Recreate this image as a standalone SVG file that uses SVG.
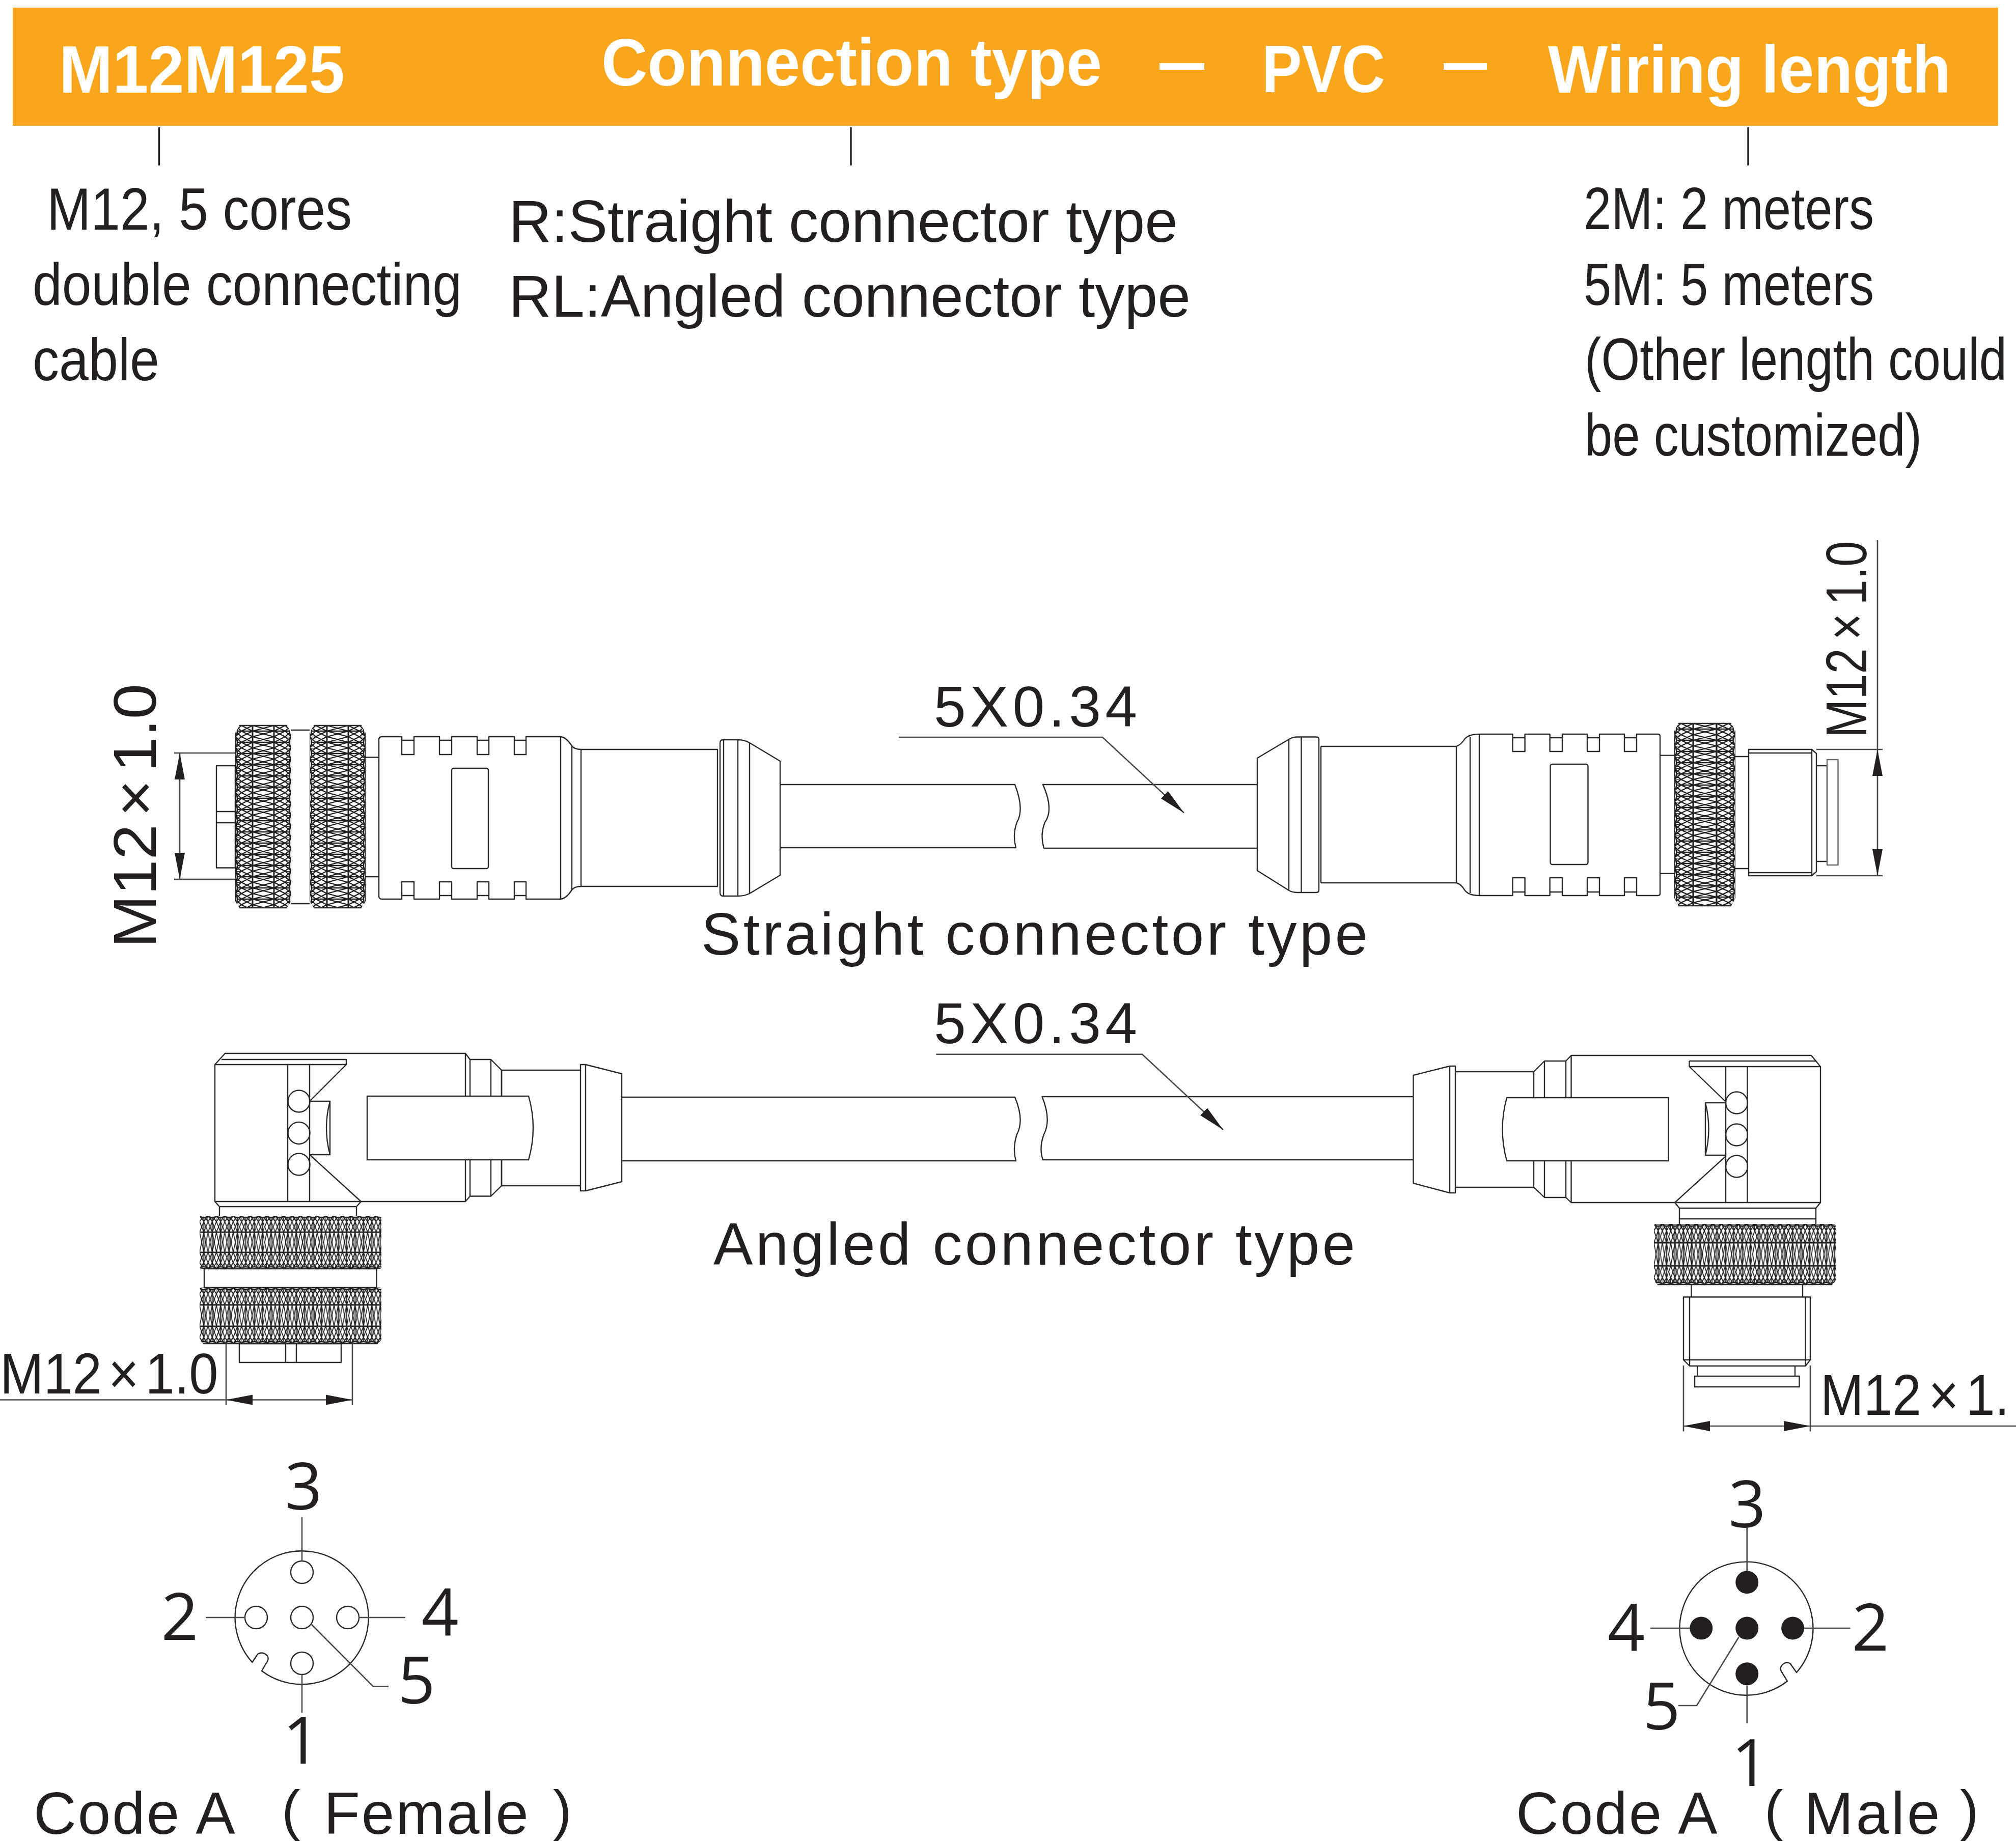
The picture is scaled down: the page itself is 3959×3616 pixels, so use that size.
<svg xmlns="http://www.w3.org/2000/svg" xmlns:xlink="http://www.w3.org/1999/xlink" width="3959" height="3616" viewBox="0 0 3959 3616">
<style>
.l{fill:none;stroke:#2b2829;stroke-width:2.4;stroke-linejoin:round;stroke-linecap:butt}
.w{fill:#fff;stroke:#2b2829;stroke-width:2.4}
.g{fill:none;stroke:#6a6868;stroke-width:2.4}
.c{fill:none;stroke:#4a4748;stroke-width:2.6}
.d{fill:none;stroke:#231f20;stroke-width:3.4}
.a{marker-start:url(#arr);marker-end:url(#arr)}
text{font-family:"Liberation Sans",Arial,sans-serif;fill:#231f20}
.h{font-weight:700;fill:#fff;font-size:132px}
.t{font-size:116px}
.s{font-size:113px}
.n{font-family:"Open Sans","Noto Sans",sans-serif;font-size:128px;text-anchor:middle}
.p{fill:#231f20;stroke:none}
</style>
<defs>
<marker id="arr" markerUnits="userSpaceOnUse" markerWidth="54" markerHeight="24" refX="52" refY="12" orient="auto-start-reverse"><path d="M0 2L52 12L0 22Z" fill="#231f20"/></marker>
<pattern id="k" patternUnits="userSpaceOnUse" width="110" height="22">
<rect width="110" height="22" fill="#fff"/>
<path fill="none" stroke="#231f20" stroke-width="2.3" d="M0 0L12 11L0 22M12 0L0 11L12 22M12 0L34 11L12 22M34 0L12 11L34 22M34 0L76 11L34 22M76 0L34 11L76 22M76 0L98 11L76 22M98 0L76 11L98 22M98 0L110 11L98 22M110 0L98 11L110 22M0 0H12M98 0H110M0 11H110"/>
<path fill="none" stroke="#231f20" stroke-width="3" d="M34 0V22M76 0V22"/>
<path fill="#fff" stroke="#231f20" stroke-width="2.3" d="M0 0Q8 11 0 22ZM110 0Q102 11 110 22Z"/>
</pattern>
<pattern id="k1" href="#k" xlink:href="#k" patternTransform="translate(462,1425)"/>
<pattern id="k2" href="#k" xlink:href="#k" patternTransform="translate(608,1425)"/>
<pattern id="k3" href="#k" xlink:href="#k" patternTransform="translate(3288,1421) scale(1.09,1)"/>
<pattern id="k4" href="#k" xlink:href="#k" patternTransform="translate(392,2388) rotate(90) scale(.945,.75)"/>
<pattern id="k5" href="#k" xlink:href="#k" patternTransform="translate(392,2529) rotate(90) scale(1,.75)"/>
<pattern id="k6" href="#k" xlink:href="#k" patternTransform="translate(3248,2404) rotate(90) scale(1.082,.75)"/>
</defs>
<rect width="3959" height="3616" fill="#fff"/>

<g id="header">
<rect x="25" y="15" width="3899" height="232" fill="#f9a61c"/>
<text class="h" x="116" y="182" textLength="561" lengthAdjust="spacingAndGlyphs">M12M125</text>
<text class="h" x="1181" y="168" textLength="983" lengthAdjust="spacingAndGlyphs">Connection type</text>
<text class="h" x="2277" y="166" textLength="88" lengthAdjust="spacingAndGlyphs">—</text>
<text class="h" x="2478" y="181" textLength="242" lengthAdjust="spacingAndGlyphs">PVC</text>
<text class="h" x="2835" y="166" textLength="85" lengthAdjust="spacingAndGlyphs">—</text>
<text class="h" x="3040" y="182" textLength="791" lengthAdjust="spacingAndGlyphs">Wiring length</text>
</g>

<g id="desc-model">
<text class="t" x="92" y="451" textLength="599" lengthAdjust="spacingAndGlyphs">M12, 5 cores</text>
<text class="t" x="64" y="599" textLength="843" lengthAdjust="spacingAndGlyphs">double connecting</text>
<text class="t" x="64" y="747" textLength="249" lengthAdjust="spacingAndGlyphs">cable</text>
</g>
<g id="desc-type">
<text class="t" x="999" y="475" textLength="1314" lengthAdjust="spacingAndGlyphs">R:Straight connector type</text>
<text class="t" x="999" y="622" textLength="1339" lengthAdjust="spacingAndGlyphs">RL:Angled connector type</text>
</g>
<g id="desc-length">
<text class="t" x="3110" y="450" textLength="570" lengthAdjust="spacingAndGlyphs">2M: 2 meters</text>
<text class="t" x="3110" y="599" textLength="570" lengthAdjust="spacingAndGlyphs">5M: 5 meters</text>
<text class="t" x="3112" y="746" textLength="829" lengthAdjust="spacingAndGlyphs">(Other length could</text>
<text class="t" x="3112" y="895" textLength="662" lengthAdjust="spacingAndGlyphs">be customized)</text>
</g>

<g id="straight-female">
<rect class="l" x="425" y="1504" width="37" height="200.5"/>
<path class="l" d="M425 1594H462M425 1616H462M571 1434H608M571 1775H608M717 1487.5H744M717 1722H744"/>
<path fill="url(#k1)" d="M462 1440L470 1425H564L571.500 1440V1770L564 1783H470L462 1770Z"/>
<path fill="url(#k2)" d="M608 1440L616 1425H710L718 1440V1770L710 1783H616L608 1770Z"/>
<path class="l" d="M470 1425H564M470 1783H564M616 1425H710M616 1783H710"/>
<path class="l" d="M1101 1447H1033V1482H1010V1447H960V1482H937V1447H887V1482H863V1447H813V1482H789V1447H750Q744 1447 744 1453V1760Q744 1766 750 1766H789V1732H813V1766H863V1732H887V1766H937V1732H960V1766H1010V1732H1033V1766H1101"/>
<path class="l" d="M789 1454H813M863 1454H887M937 1454H960M1010 1454H1033M789 1759H813M863 1759H887M937 1759H960M1010 1759H1033"/>
<path class="l" d="M1101 1447Q1112 1448 1123 1465Q1128 1472 1141 1472H1409V1741H1141Q1128 1741 1123 1748Q1112 1765 1101 1766V1447M1123 1465V1748M1141 1472V1741"/>
<rect class="l" x="887" y="1509" width="72" height="197" rx="4"/>
<path class="l" d="M1414 1460Q1414 1453 1420 1453H1449Q1462 1453 1472 1459L1532 1495V1719L1472 1755Q1462 1760 1449 1760H1420Q1414 1760 1414 1753ZM1421 1453V1760M1449 1453V1760M1472 1459V1755"/>
</g>

<g id="straight-cable">
<path class="l" d="M1532 1541H1993Q2012 1590 1997 1615Q1988 1640 1995 1665H1532"/>
<path class="l" d="M2469 1541H2048Q2070 1590 2052 1615Q2042 1640 2050 1666H2469"/>
<text class="s" x="1834" y="1427" textLength="399">5X0.34</text>
<text class="t" x="1377" y="1875" textLength="1309">Straight connector type</text>
</g>

<g id="straight-male">
<path class="l" d="M2469 1489L2533 1451Q2540 1447.500 2547 1447.500H2585Q2590 1447.500 2590 1452V1748Q2590 1753 2585 1753H2547Q2540 1753 2533 1750L2469 1710ZM2531 1452V1749M2555.500 1447.500V1753M2594 1466V1734"/>
<path class="l" d="M2594 1466H2860Q2870 1462 2876 1452Q2884 1442 2905 1442M2594 1734H2860Q2870 1737 2876 1748Q2884 1759 2905 1759M2860 1466V1734M2887 1447V1754M2905 1442V1759"/>
<path class="l" d="M2905 1442H2970.500V1476H2994.600V1442H3043.600V1476H3068V1442H3117V1476H3141V1442H3190V1476H3214V1442H3256Q3260 1442 3260 1446V1755Q3260 1759 3256 1759H3214V1724H3190V1759H3141V1724H3117V1759H3068V1724H3043.600V1759H2994.600V1724H2970.500V1759H2905"/>
<path class="l" d="M2970.500 1449H2994.600M3043.600 1449H3068M3117 1449H3141M3190 1449H3214M2970.500 1752H2994.600M3043.600 1752H3068M3117 1752H3141M3190 1752H3214"/>
<rect class="l" x="3044.500" y="1501" width="74" height="197" rx="4"/>
<path class="l" d="M3260 1483.600H3288M3260 1715.600H3288M3408 1486H3434M3408 1706H3434"/>
<path fill="url(#k3)" d="M3288 1436L3296 1421H3400L3408 1436V1764L3400 1779H3296L3288 1764Z"/>
<path class="l" d="M3296 1421H3400M3296 1779H3400"/>
<path class="l" d="M3434 1472H3558L3567 1480V1712L3558 1720H3434ZM3558 1472V1720M3434 1479H3558M3434 1714H3558"/>
<path class="l" d="M3567 1504H3588V1692H3567"/>
<rect class="g" x="3588" y="1492" width="21.500" height="207"/>
</g>

<g id="angled-female">
<path class="l" d="M422 2091L442 2069H914L923 2081H964L985 2102V2329L964 2349.500H923L914 2360H422ZM435 2081H680V2091M422 2091H680L608 2163M565 2091V2360M608 2091V2360"/>
<circle class="l" cx="587" cy="2163" r="21.500"/><circle class="l" cx="587" cy="2225.500" r="21.500"/><circle class="l" cx="587" cy="2287" r="21.500"/>
<path class="l" d="M608 2163H648V2268H608M648 2163Q634 2215 648 2268M608 2268L709 2360M914 2069V2360M923 2081V2350M964 2081V2350M985 2102V2329"/>
<path class="l" d="M985 2102H1140M985 2329H1140M1140 2091H1150L1221 2109V2321L1150 2339H1140ZM1150 2091V2339"/>
<path class="w" d="M721 2153H1038Q1056 2215 1038 2278H721Z"/>
<path class="l" d="M422 2360L431 2370H700L709 2360M431 2370V2388M700 2370V2388M401 2492V2529M739.500 2492V2529"/>
<path fill="url(#k4)" d="M396 2388H745Q749 2388 749 2392V2488Q749 2492 745 2492H396Q392 2492 392 2488V2392Q392 2388 396 2388Z"/>
<path fill="url(#k5)" d="M396 2529H745Q749 2529 749 2533V2632L742 2639H399L392 2632V2533Q392 2529 396 2529Z"/>
<path class="l" d="M401 2492H739.500M401 2529H739.500M399 2639H742"/>
<rect class="l" x="470" y="2639" width="200" height="37"/>
<path class="l" d="M561 2639V2676M582 2639V2676"/>
</g>

<g id="angled-cable">
<path class="l" d="M1221 2155H1993Q2012 2200 1997 2228Q1988 2255 1995 2280H1221"/>
<path class="l" d="M2775.500 2154H2046.500Q2065 2200 2050 2228Q2040 2255 2048 2278H2775.500"/>
<text class="s" x="1834" y="2049" textLength="399">5X0.34</text>
<text class="t" x="1401" y="2483.500" textLength="1260">Angled connector type</text>
</g>

<g id="angled-male">
<path class="l" d="M2775.500 2112L2847 2094H2858V2343H2847L2775.500 2324ZM2847 2094V2343"/>
<path class="l" d="M2858 2105H3012L3033 2084H3075L3085.500 2073H3557L3575 2095V2362H3085.500L3075 2352H3033L3012 2332H2858M3012 2105V2332M3033 2084V2352M3075 2084V2352M3085.500 2073V2362"/>
<path class="l" d="M3317.500 2084H3567M3317.500 2084V2095M3317.500 2095H3575M3317.500 2095L3389 2164M3389 2095V2362M3431.500 2095V2362"/>
<circle class="l" cx="3410.500" cy="2166" r="21.500"/><circle class="l" cx="3410.500" cy="2229" r="21.500"/><circle class="l" cx="3410.500" cy="2291" r="21.500"/>
<path class="l" d="M3389 2166H3349V2269H3389M3349 2166Q3362 2217 3349 2269M3389 2271L3289 2362"/>
<path class="w" d="M2959 2156H3276.500V2280H2959Q2942 2218 2959 2156Z"/>
<path class="l" d="M3289 2362L3298 2373H3566L3575 2362M3298 2373V2404M3566 2373V2404M3298 2394H3566"/>
<path fill="url(#k6)" d="M3252 2404H3601Q3605 2404 3605 2408V2516L3598 2523H3255L3248 2516V2408Q3248 2404 3252 2404Z"/>
<path class="l" d="M3255 2523H3598M3321.500 2523V2547.500M3540 2523V2547.500"/>
<path class="l" d="M3306 2547.500H3555V2671L3545.600 2683H3318L3306 2671ZM3318 2547.500V2683M3545.600 2547.500V2683M3306 2671H3555"/>
<path class="l" d="M3333.500 2683V2703M3525 2683V2703"/>
<rect class="l" x="3328" y="2703" width="205.500" height="21"/>
</g>

<g id="pins-female">
<path class="l" d="M514 3282A131 131 0 1 0 495.400 3265L506 3249Q515 3243 524 3251Q530 3258 522 3268Z"/>
<circle class="l" cx="593" cy="3088" r="22"/><circle class="l" cx="503" cy="3177" r="22"/><circle class="l" cx="593" cy="3177" r="22"/><circle class="l" cx="683" cy="3177" r="22"/><circle class="l" cx="593" cy="3267" r="22"/>
<text class="n" x="596" y="2965">3</text><text class="n" x="353" y="3221">2</text><text class="n" x="864" y="3212">4</text><text class="n" x="818" y="3346">5</text><text class="n" x="592" y="3464">1</text>
<text class="t" y="3601.500"><tspan x="66" letter-spacing="3">Code A</tspan><tspan x="553" dy="-9" font-size="110">(</tspan><tspan x="636" dy="9" letter-spacing="3">Female</tspan><tspan x="1086" dy="-9" font-size="110">)</tspan></text>
</g>

<g id="pins-male">
<path class="l" d="M3510 3302A131 131 0 1 1 3528 3285L3516 3268Q3508 3262 3499 3271Q3494 3278 3500 3286Z"/>
<circle class="p" cx="3430.700" cy="3107.800" r="22.500"/><circle class="p" cx="3340.800" cy="3198" r="22.500"/><circle class="p" cx="3430.700" cy="3198" r="22.500"/><circle class="p" cx="3520.600" cy="3198" r="22.500"/><circle class="p" cx="3430.700" cy="3287.700" r="22.500"/>
<text class="n" x="3431" y="3000">3</text><text class="n" x="3193.500" y="3242">4</text><text class="n" x="3673" y="3242">2</text><text class="n" x="3263" y="3397">5</text><text class="n" x="3437" y="3508">1</text>
<text class="t" y="3601.500"><tspan x="2977" letter-spacing="3">Code A</tspan><tspan x="3465" dy="-9" font-size="110">(</tspan><tspan x="3543" dy="9" letter-spacing="5">Male</tspan><tspan x="3849" dy="-9" font-size="110">)</tspan></text>
</g>

<g id="dim-labels">
<text style="font-size:119px" transform="translate(306,1862) rotate(-90) scale(1.05,1)">M12<tspan dx="14">×</tspan><tspan dx="14">1.0</tspan></text>
<text class="s" transform="translate(3665,1449) rotate(-90) scale(.8,1)">M12<tspan dx="20">×</tspan><tspan dx="20">1.0</tspan></text>
<text class="s" transform="translate(0,2737) scale(.91,1)">M12<tspan dx="14">×</tspan><tspan dx="14">1.0</tspan></text>
<text class="s" transform="translate(3575,2779) scale(.9,1)">M12<tspan dx="16">×</tspan><tspan dx="16">1.</tspan></text>
</g>

<g id="connectors">
<path class="d" d="M312.500 250V325M1671 250V325M3433 250V325"/>
<path class="c" d="M1765 1448H2165L2325 1596.500" style="marker-end:url(#arr)"/>
<path class="c" d="M1838.500 2070.700H2243L2402 2219" style="marker-end:url(#arr)"/>
<path class="c" d="M342 1479H462M342 1727H462"/>
<path class="c a" d="M353 1479V1727"/>
<path class="c" d="M3567 1472H3697M3567 1720H3697M3687 1061V1472"/>
<path class="c a" d="M3687 1472V1720"/>
<path class="c" d="M444 2639V2760M692 2639V2760M0 2749.500H444"/>
<path class="c a" d="M444 2749.500H692"/>
<path class="c" d="M3306 2682V2811.500M3555 2682V2811.500M3555 2801H3959"/>
<path class="c a" d="M3306 2801H3555"/>
<path class="c" d="M593 2980V3066M593 3289V3364M404 3177H481M704 3177H796M612 3191L733 3312.600H763"/>
<path class="c" d="M3430.700 3000V3085M3430.700 3310.600V3384.600M3241 3198H3319M3542.600 3198H3633.500M3414.500 3215.700L3332 3350H3296"/>
</g>
</svg>
